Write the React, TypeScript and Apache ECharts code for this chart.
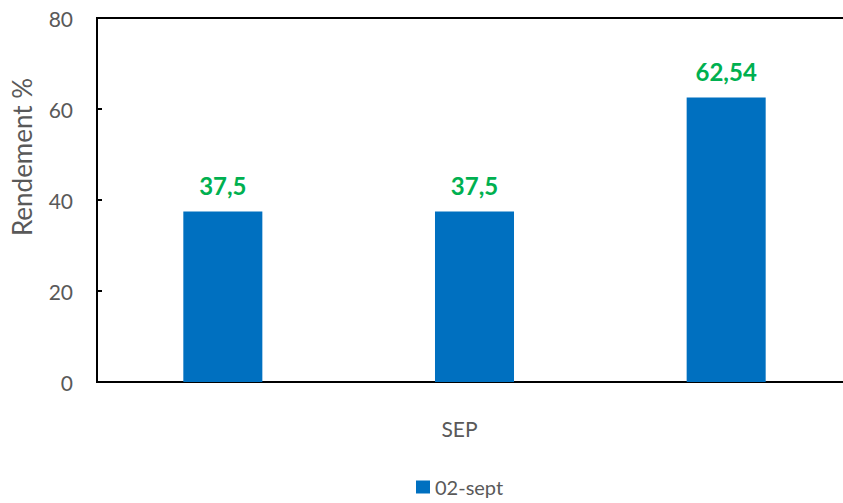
import React, { useEffect, useRef } from "react";
import * as echarts from "echarts";

const categories = ["A", "B", "C"];
const seriesName = "02-sept";
const values = [37.5, 37.5, 62.54];
const yTicks = [0, 20, 40, 60, 80];

const FONT = "Lato, 'Open Sans', sans-serif";

export default function App() {
  const ref = useRef<HTMLDivElement>(null);
  useEffect(() => {
    if (!ref.current) return;
    const chart = echarts.init(ref.current, undefined, { renderer: "svg" });
    chart.setOption({
      animation: false,
      backgroundColor: "#ffffff",
      textStyle: { fontFamily: FONT },
      grid: {
        left: 97,
        top: 18,
        width: 755,
        height: 364,
        outerBoundsMode: "none",
        containLabel: false,
        show: true,
        borderColor: "#000000",
        borderWidth: 2,
        backgroundColor: "transparent",
      },
      legend: {
        data: [seriesName],
        left: 411,
        top: 472,
        icon: "rect",
        itemWidth: 14,
        itemHeight: 13,
        itemGap: 6,
        textStyle: { fontSize: 20, color: "#595959", fontFamily: FONT },
      },
      xAxis: {
        type: "category",
        data: categories,
        name: "SEP",
        nameLocation: "middle",
        nameGap: 36,
        nameTextStyle: { fontSize: 21, color: "#595959", padding: [0, 30, 0, 0] },
        axisLine: { show: true, lineStyle: { color: "#000000", width: 2 } },
        axisTick: { show: false },
        axisLabel: { show: false },
        splitLine: { show: false },
      },
      yAxis: {
        type: "value",
        min: yTicks[0],
        max: yTicks[yTicks.length - 1],
        interval: 20,
        name: "Rendement %",
        nameLocation: "middle",
        nameRotate: 90,
        nameGap: 62,
        nameTextStyle: { fontSize: 26, color: "#595959", padding: [0, 0, 0, 86] },
        axisLine: { show: true, lineStyle: { color: "#000000", width: 2 } },
        axisTick: { show: true, inside: true, length: 5, lineStyle: { color: "#000000", width: 2 } },
        axisLabel: { fontSize: 21, color: "#595959", margin: 24 },
        splitLine: { show: false },
      },
      series: [
        {
          name: seriesName,
          type: "bar",
          data: values,
          barWidth: "31.4%",
          itemStyle: { color: "#0070C0" },
          label: {
            show: true,
            position: "top",
            distance: 14,
            fontSize: 24,
            fontWeight: "bold",
            color: "#00B050",
            fontFamily: FONT,
            formatter: (p: any) => String(p.value).replace(".", ","),
          },
        },
      ],
    });
    return () => chart.dispose();
  }, []);
  return (
    <div
      ref={ref}
      style={{ position: "fixed", left: 0, top: 0, width: 843, height: 503 }}
    />
  );
}
